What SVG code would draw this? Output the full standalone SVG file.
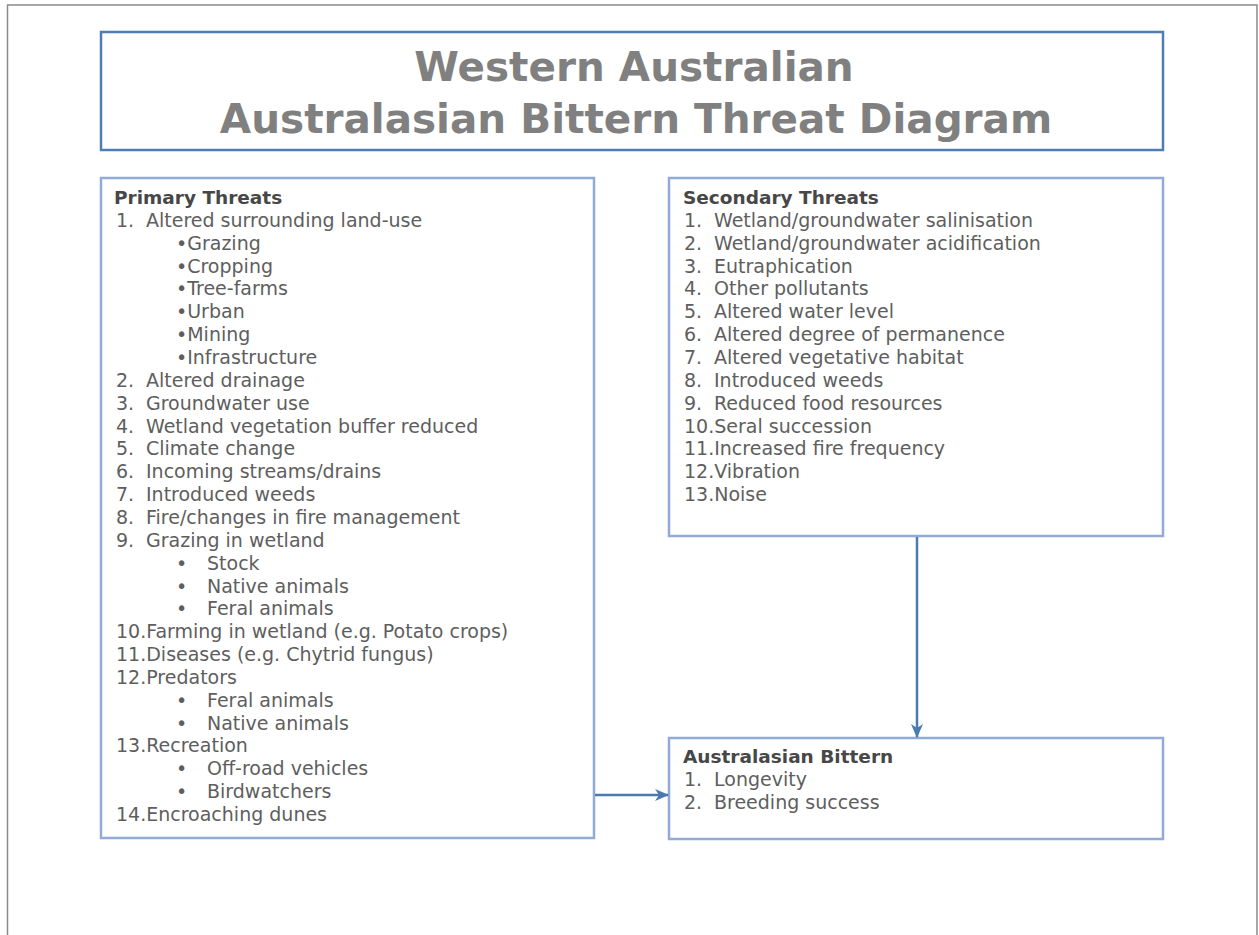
<svg xmlns="http://www.w3.org/2000/svg" width="1259" height="935" viewBox="0 0 1259 935">
<style>
.frame{fill:none;stroke:#8a8a8a;stroke-width:1.5}
.tbox{fill:#ffffff;stroke:#4f7db3;stroke-width:2.5}
.box{fill:#ffffff;stroke:#8fabd6;stroke-width:2.5}
.title{font-family:"DejaVu Sans",Verdana,sans-serif;font-weight:bold;font-size:40.5px;fill:#808080;text-anchor:middle}
.h{font-family:"DejaVu Sans",Verdana,sans-serif;font-weight:bold;font-size:18.5px;fill:#474747}
.t{font-family:"DejaVu Sans",Verdana,sans-serif;font-size:19px;fill:#5e5e5e}
.conn{fill:none;stroke:#4a7ab0;stroke-width:2.5}
</style>
<defs>
<marker id="arr" markerUnits="userSpaceOnUse" markerWidth="14" markerHeight="14" viewBox="0 0 14 14" refX="13" refY="7" orient="auto">
<path d="M0,1 L14,7 L0,13 L4,7 Z" fill="#4a7ab0"/>
</marker>
</defs>
<rect width="1259" height="935" fill="#ffffff"/>
<rect class="frame" x="7.5" y="5" width="1249.5" height="945"/>

<g id="title">
<rect class="tbox" x="101" y="32" width="1062" height="118"/>
<text class="title" x="634" y="81">Western Australian</text>
<text class="title" x="636" y="133">Australasian Bittern Threat Diagram</text>
</g>

<g id="primary">
<rect class="box" x="101" y="178" width="493" height="660"/>
<text class="h" x="114" y="204">Primary Threats</text>
<text class="t" x="116" y="226.9">1.<tspan x="146">Altered surrounding land-use</tspan></text>
<text class="t" x="176" y="249.7">•Grazing</text>
<text class="t" x="176" y="272.6">•Cropping</text>
<text class="t" x="176" y="295.4">•Tree-farms</text>
<text class="t" x="176" y="318.3">•Urban</text>
<text class="t" x="176" y="341.1">•Mining</text>
<text class="t" x="176" y="364">•Infrastructure</text>
<text class="t" x="116" y="386.8">2.<tspan x="146">Altered drainage</tspan></text>
<text class="t" x="116" y="409.7">3.<tspan x="146">Groundwater use</tspan></text>
<text class="t" x="116" y="432.5">4.<tspan x="146">Wetland vegetation buffer reduced</tspan></text>
<text class="t" x="116" y="455.4">5.<tspan x="146">Climate change</tspan></text>
<text class="t" x="116" y="478.2">6.<tspan x="146">Incoming streams/drains</tspan></text>
<text class="t" x="116" y="501.1">7.<tspan x="146">Introduced weeds</tspan></text>
<text class="t" x="116" y="523.9">8.<tspan x="146">Fire/changes in fire management</tspan></text>
<text class="t" x="116" y="546.8">9.<tspan x="146">Grazing in wetland</tspan></text>
<text class="t" x="176" y="569.6">•<tspan x="207">Stock</tspan></text>
<text class="t" x="176" y="592.5">•<tspan x="207">Native animals</tspan></text>
<text class="t" x="176" y="615.3">•<tspan x="207">Feral animals</tspan></text>
<text class="t" x="116" y="638.2">10.Farming in wetland (e.g. Potato crops)</text>
<text class="t" x="116" y="661">11.Diseases (e.g. Chytrid fungus)</text>
<text class="t" x="116" y="683.9">12.Predators</text>
<text class="t" x="176" y="706.7">•<tspan x="207">Feral animals</tspan></text>
<text class="t" x="176" y="729.6">•<tspan x="207">Native animals</tspan></text>
<text class="t" x="116" y="752.4">13.Recreation</text>
<text class="t" x="176" y="775.3">•<tspan x="207">Off-road vehicles</tspan></text>
<text class="t" x="176" y="798.1">•<tspan x="207">Birdwatchers</tspan></text>
<text class="t" x="116" y="821">14.Encroaching dunes</text>
</g>

<g id="secondary">
<rect class="box" x="669" y="178" width="494" height="358"/>
<text class="h" x="683" y="204">Secondary Threats</text>
<text class="t" x="684" y="226.9">1.<tspan x="714">Wetland/groundwater salinisation</tspan></text>
<text class="t" x="684" y="249.7">2.<tspan x="714">Wetland/groundwater acidification</tspan></text>
<text class="t" x="684" y="272.6">3.<tspan x="714">Eutraphication</tspan></text>
<text class="t" x="684" y="295.4">4.<tspan x="714">Other pollutants</tspan></text>
<text class="t" x="684" y="318.3">5.<tspan x="714">Altered water level</tspan></text>
<text class="t" x="684" y="341.1">6.<tspan x="714">Altered degree of permanence</tspan></text>
<text class="t" x="684" y="364">7.<tspan x="714">Altered vegetative habitat</tspan></text>
<text class="t" x="684" y="386.8">8.<tspan x="714">Introduced weeds</tspan></text>
<text class="t" x="684" y="409.7">9.<tspan x="714">Reduced food resources</tspan></text>
<text class="t" x="684" y="432.5">10.Seral succession</text>
<text class="t" x="684" y="455.4">11.Increased fire frequency</text>
<text class="t" x="684" y="478.2">12.Vibration</text>
<text class="t" x="684" y="501.1">13.Noise</text>
</g>

<g id="bittern">
<rect class="box" x="669" y="738" width="494" height="101"/>
<text class="h" x="683" y="763">Australasian Bittern</text>
<text class="t" x="684" y="786">1.<tspan x="714">Longevity</tspan></text>
<text class="t" x="684" y="809">2.<tspan x="714">Breeding success</tspan></text>
</g>

<g id="connectors">
<line class="conn" x1="917" y1="537" x2="917" y2="737" marker-end="url(#arr)"/>
<line class="conn" x1="595" y1="795" x2="668" y2="795" marker-end="url(#arr)"/>
</g>
</svg>
